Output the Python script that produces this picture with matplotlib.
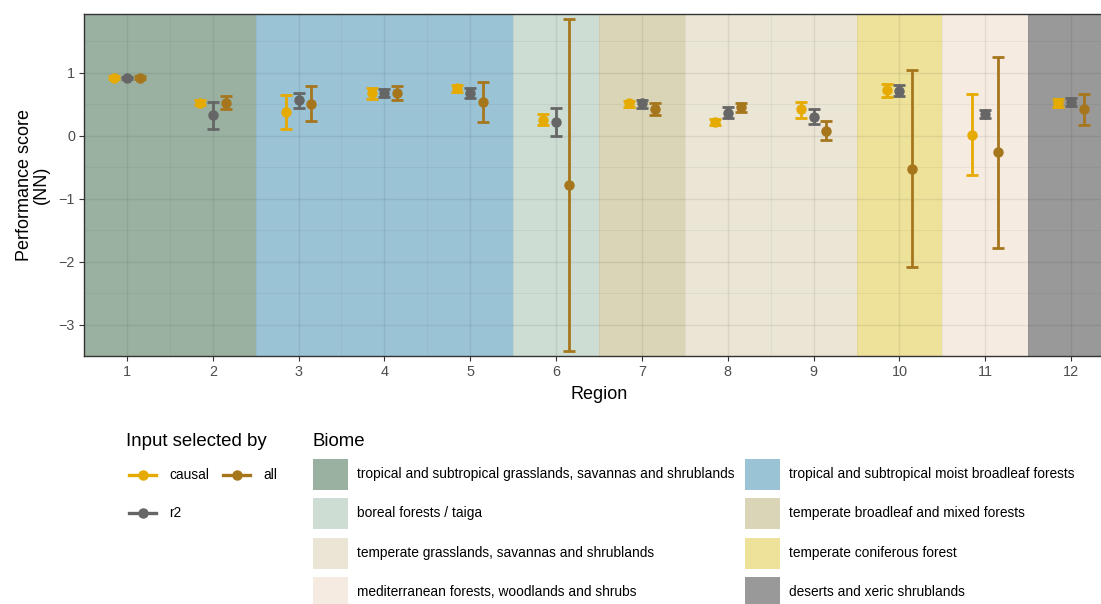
import numpy as np
import matplotlib
matplotlib.use("Agg")
import matplotlib.pyplot as plt
from matplotlib.patches import Rectangle
from matplotlib.lines import Line2D

plt.rcParams['font.family'] = ['Liberation Sans', 'DejaVu Sans']

# data
regions = np.arange(1, 13)

causal = [0.92, 0.52, 0.38, 0.67, 0.75, 0.25, 0.51, 0.22, 0.42, 0.72, 0.01, 0.52]
causal_lo = [0.90, 0.48, 0.11, 0.58, 0.69, 0.16, 0.46, 0.16, 0.28, 0.62, -0.63, 0.45]
causal_hi = [0.94, 0.57, 0.65, 0.75, 0.80, 0.34, 0.55, 0.27, 0.54, 0.82, 0.66, 0.58]

r2 = [0.92, 0.32, 0.57, 0.67, 0.68, 0.22, 0.51, 0.36, 0.30, 0.71, 0.35, 0.53]
r2_lo = [0.905, 0.10, 0.44, 0.61, 0.60, -0.005, 0.44, 0.28, 0.19, 0.625, 0.28, 0.47]
r2_hi = [0.935, 0.54, 0.68, 0.735, 0.75, 0.44, 0.57, 0.45, 0.42, 0.80, 0.41, 0.59]

allin = [0.92, 0.515, 0.50, 0.67, 0.54, -0.78, 0.42, 0.446, 0.08, -0.525, -0.26, 0.415]
all_lo = [0.90, 0.425, 0.225, 0.57, 0.21, -3.42, 0.32, 0.37, -0.074, -2.08, -1.78, 0.16]
all_hi = [0.94, 0.625, 0.78, 0.78, 0.855, 1.85, 0.515, 0.52, 0.236, 1.04, 1.255, 0.66]

series_names = ["causal", "r2", "all"]
series_colors = ["#E6AB02", "#666666", "#A6761D"]

# biome of each region, listed in legend order
biomes = [
    "tropical and subtropical grasslands, savannas and shrublands",
    "tropical and subtropical moist broadleaf forests",
    "boreal forests / taiga",
    "temperate broadleaf and mixed forests",
    "temperate grasslands, savannas and shrublands",
    "temperate coniferous forest",
    "mediterranean forests, woodlands and shrubs",
    "deserts and xeric shrublands",
]
biome_colors = ["#9AB1A1", "#9AC4D6", "#CDDDD3", "#D9D5B6",
                "#EAE5D4", "#EEE19A", "#F6EBE1", "#999999"]
region_biome = [0, 0, 1, 1, 1, 2, 3, 4, 4, 5, 6, 7]

W, H = 1101, 604
fig = plt.figure(figsize=(W / 100, H / 100), dpi=100)
ax = fig.add_axes([84 / W, 1 - 356 / H, (1114 - 84) / W, (356 - 14) / H])

# biome background bands
for r, b in zip(regions, region_biome):
    ax.axvspan(r - 0.5, r + 0.5, color=biome_colors[b], lw=0, zorder=0)

ax.set_xlim(0.5, 12.5)
ax.set_ylim(-3.46, 1.93)
ax.set_xticks(regions)
ax.set_yticks([-3, -2, -1, 0, 1])
ax.set_xticks(np.arange(0.5, 13, 1.0), minor=True)
ax.set_yticks(np.arange(-3.5, 2.0, 1.0), minor=True)
ax.grid(True, which='major', color='black', alpha=0.07, lw=1.0, zorder=1)
ax.grid(True, which='minor', color='black', alpha=0.05, lw=0.6, zorder=1)
ax.tick_params(which='minor', length=0)
ax.tick_params(which='major', length=3.5, width=0.8, color='#333333',
               labelcolor='#4D4D4D', labelsize=10.4, pad=3)
for s in ax.spines.values():
    s.set_color('#333333')
    s.set_linewidth(1.0)

offsets = [-0.15, 0.0, 0.15]
vals = [causal, r2, allin]
los = [causal_lo, r2_lo, all_lo]
his = [causal_hi, r2_hi, all_hi]
for name, col, off, v, lo, hi in zip(series_names, series_colors, offsets, vals, los, his):
    v = np.array(v)
    err = [v - np.array(lo), np.array(hi) - v]
    ax.errorbar(regions + off, v, yerr=err, fmt='o', color=col, ms=6.5,
                elinewidth=2.0, capsize=4.3, capthick=2.0, zorder=3)

ax.set_xlabel("Region", fontsize=13, labelpad=5)
fig.text(33 / W, 1 - 185 / H, "Performance score\n(NN)", rotation=90,
         ha='center', va='center', fontsize=13, linespacing=1.05)

# legends drawn in pixel coordinates
lg = fig.add_axes([0, 0, 1, 1])
lg.set_xlim(0, W)
lg.set_ylim(H, 0)
lg.axis('off')

lg.text(126, 442, "Input selected by", fontsize=13.4, va='center', ha='left')
key_pos = [(129, 475), (129, 513), (223, 475)]
for (kx, ky), name, col in zip(key_pos, series_names, series_colors):
    lg.add_line(Line2D([kx, kx + 27], [ky, ky], color=col, lw=2.4))
    lg.add_line(Line2D([kx + 13.5], [ky], marker='o', color=col, ms=6.5))
    lg.text(kx + 40, ky, name, fontsize=9.9, va='center', ha='left')

lg.text(313, 442, "Biome", fontsize=13.4, va='center', ha='left')
for i, (name, col) in enumerate(zip(biomes, biome_colors)):
    cx = 313 if i % 2 == 0 else 745
    cy = [474, 513, 553, 592][i // 2]
    lg.add_patch(Rectangle((cx, cy - 15.5), 35, 31, color=col, lw=0))
    lg.text(cx + 44, cy, name, fontsize=9.9, va='center', ha='left')

fig.savefig("out.png", dpi=100)
